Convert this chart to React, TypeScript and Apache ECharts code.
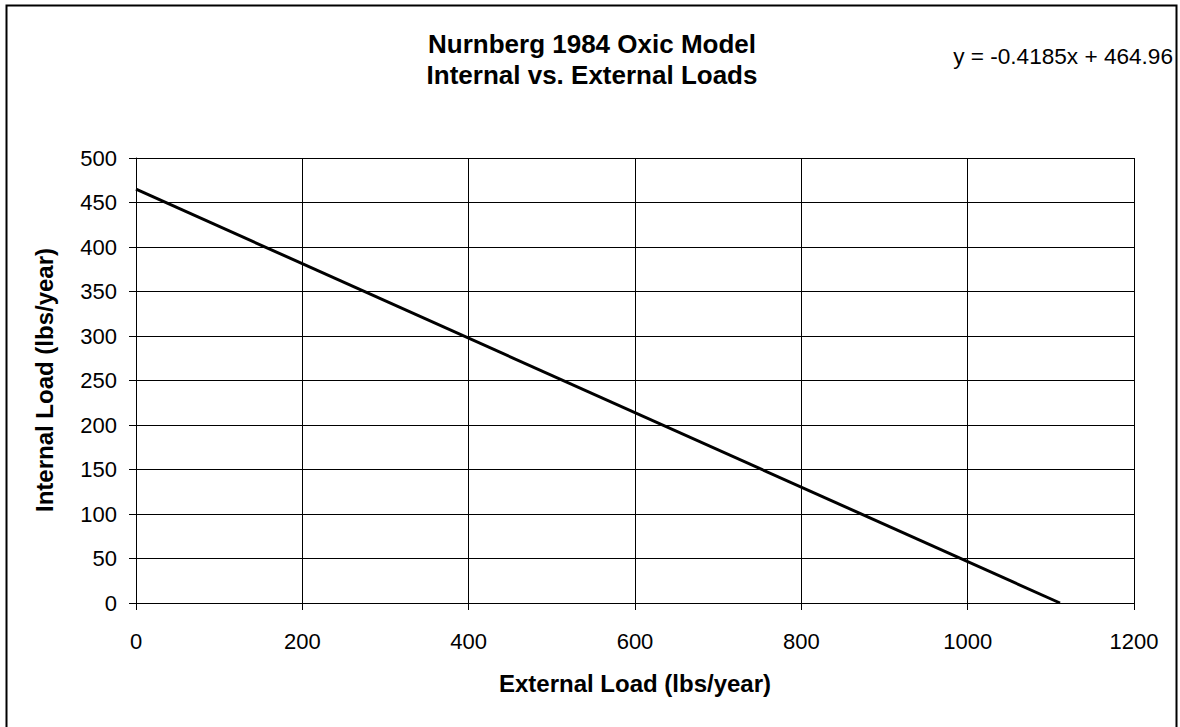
import React, { useEffect, useRef } from "react";
import * as echarts from "echarts";

const lineX = [0, 1111];
const lineY = [464.96, 0];
const titleLines = ["Nurnberg 1984 Oxic Model", "Internal vs. External Loads"];
const equationText = "y = -0.4185x + 464.96";
const xAxisName = "External Load (lbs/year)";
const yAxisName = "Internal Load (lbs/year)";

const FONT = "'Liberation Sans', Arial, sans-serif";

export default function App() {
  const ref = useRef<HTMLDivElement>(null);
  useEffect(() => {
    if (!ref.current) return;
    const chart = echarts.init(ref.current, null, { renderer: "svg" });
    chart.setOption({
      animation: false,
      backgroundColor: "#ffffff",
      textStyle: { fontFamily: FONT },
      grid: { left: 136, right: 46, top: 158, bottom: 124, containLabel: false },
      xAxis: {
        type: "value",
        min: 0,
        max: 1200,
        interval: 200,
        axisLine: { show: true, onZero: false, lineStyle: { color: "#000", width: 1 } },
        axisTick: { show: true, inside: false, length: 7, lineStyle: { color: "#000" } },
        axisLabel: {
          color: "#000",
          fontSize: 22,
          fontFamily: FONT,
          margin: 27,
          formatter: (v: number) => String(v),
        },
        splitLine: { show: true, lineStyle: { color: "#000", width: 1 } },
      },
      yAxis: {
        type: "value",
        min: 0,
        max: 500,
        interval: 50,
        axisLine: { show: true, onZero: false, lineStyle: { color: "#000", width: 1 } },
        axisTick: { show: true, inside: false, length: 7, lineStyle: { color: "#000" } },
        axisLabel: {
          color: "#000",
          fontSize: 22,
          fontFamily: FONT,
          margin: 19,
          formatter: (v: number) => String(v),
        },
        splitLine: { show: true, lineStyle: { color: "#000", width: 1 } },
      },
      series: [
        {
          type: "line",
          data: lineX.map((x, i) => [x, lineY[i]]),
          showSymbol: false,
          symbol: "none",
          lineStyle: { color: "#000", width: 3 },
        },
      ],
      graphic: [
        {
          type: "rect",
          shape: { x: 6.5, y: 5.5, width: 1170, height: 740 },
          style: { fill: "none", stroke: "#000", lineWidth: 2 },
          z: 10,
        },
        {
          type: "text",
          x: 592,
          y: 59,
          style: {
            text: titleLines.join("\n"),
            fontSize: 26,
            fontWeight: "bold",
            fontFamily: FONT,
            fill: "#000",
            align: "center",
            verticalAlign: "middle",
            lineHeight: 31,
          },
        },
        {
          type: "text",
          x: 1173,
          y: 56,
          style: {
            text: equationText,
            fontSize: 22.6,
            fontFamily: FONT,
            fill: "#000",
            align: "right",
            verticalAlign: "middle",
          },
        },
        {
          type: "text",
          x: 635,
          y: 683,
          style: {
            text: xAxisName,
            fontSize: 24,
            fontWeight: "bold",
            fontFamily: FONT,
            fill: "#000",
            align: "center",
            verticalAlign: "middle",
          },
        },
        {
          type: "text",
          x: 44,
          y: 380,
          rotation: Math.PI / 2,
          style: {
            text: yAxisName,
            fontSize: 24,
            fontWeight: "bold",
            fontFamily: FONT,
            fill: "#000",
            align: "center",
            verticalAlign: "middle",
          },
        },
      ],
    });
    return () => chart.dispose();
  }, []);
  return (
    <div
      ref={ref}
      style={{ position: "absolute", left: 0, top: 0, width: 1180, height: 727 }}
    />
  );
}
